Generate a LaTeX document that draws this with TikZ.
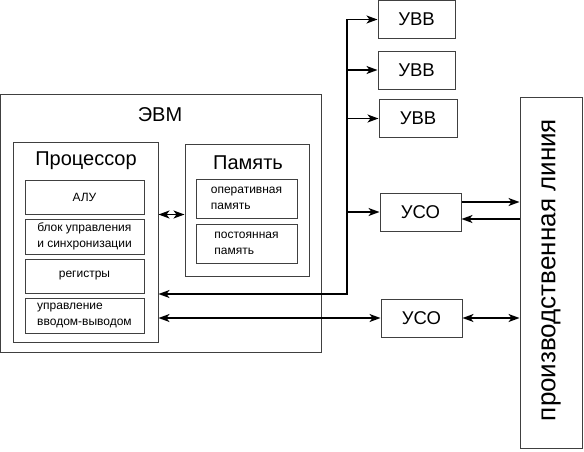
\documentclass[tikz,border=0pt]{standalone}
\usepackage{fontspec}
\setmainfont{Liberation Sans}
\usetikzlibrary{arrows.meta}
\begin{document}
\begin{tikzpicture}[x=1pt,y=-1pt,
    >={Stealth[length=11pt,width=8pt,inset=3pt]},
    box/.style={draw=black!75, line width=1pt, inner sep=0pt, align=left,
      font=\fontsize{12}{15.5}\selectfont},
    big/.style={font=\fontsize{20}{24}\selectfont},
    dev/.style={box, minimum width=78pt, minimum height=38pt, font=\fontsize{18.5}{22}\selectfont},
    wire/.style={line width=1.5pt}]
  \useasboundingbox (0,0) rectangle (584,451);
  \node[box, minimum width=321pt, minimum height=258pt] (evm) at (161,223) {};
  \node[big] (evmlabel) at (160,115) {ЭВМ};
  \node[box, minimum width=145pt, minimum height=200pt] (proc) at (85.5,242) {};
  \node[big] (proclabel) at (86,161) {Процессор};
  \node[box, minimum width=119pt, minimum height=34pt] (alu) at (84.5,197) {АЛУ};
  \node[box, minimum width=119pt, minimum height=35pt] (sync) at (84.5,236.5) {блок управления\\и синхронизации};
  \node[box, minimum width=119pt, minimum height=34pt] (reg) at (84.5,276) {регистры};
  \node[box, minimum width=119pt, minimum height=35pt] (io) at (84.5,315.5) {управление\\вводом-выводом};
  \node[box, minimum width=124pt, minimum height=132pt] (mem) at (247,210) {};
  \node[big] (memlabel) at (248,163) {Память};
  \node[box, minimum width=101pt, minimum height=39pt] (ram) at (246.5,198.5) {оперативная\\память};
  \node[box, minimum width=101pt, minimum height=39pt] (rom) at (246.5,243.5) {постоянная\\память};
  \node[dev, minimum width=77pt] (uvva) at (416.5,19.5) {УВВ};
  \node[dev, minimum width=77pt] (uvvb) at (416.5,70) {УВВ};
  \node[dev] (uvvc) at (418,118.5) {УВВ};
  \node[dev, minimum width=81pt] (usoa) at (420.5,212) {УСО};
  \node[dev, minimum width=81pt] (usob) at (421.5,318) {УСО};
  \node[box, minimum width=62pt, minimum height=351pt] (line) at (551,272.5) {};
  \node[rotate=90, font=\fontsize{26}{30}\selectfont] (linelabel) at (551,270) {производственная линия};
  \coordinate (bus) at (347,294);
  \draw[wire,<->] (proc.east |- alu.south) -- (mem.west |- alu.south);
  \draw[wire,<->] (uvva.west) -- (uvva.west -| bus) -- (bus) -- (bus -| proc.east);
  \foreach \n in {uvvb,uvvc,usoa}
    \draw[wire,->] (\n.west -| bus) -- (\n.west);
  \draw[wire,<->] (proc.east |- usob.west) -- (usob.west);
  \draw[wire,<->] (usob.east) -- (line.west |- usob.east);
  \draw[wire,->] ([yshift=10pt]usoa.east) -- ([yshift=10pt]usoa.east -| line.west);
  \draw[wire,<-] ([yshift=-7pt]usoa.east) -- ([yshift=-7pt]usoa.east -| line.west);
\end{tikzpicture}
\end{document}
